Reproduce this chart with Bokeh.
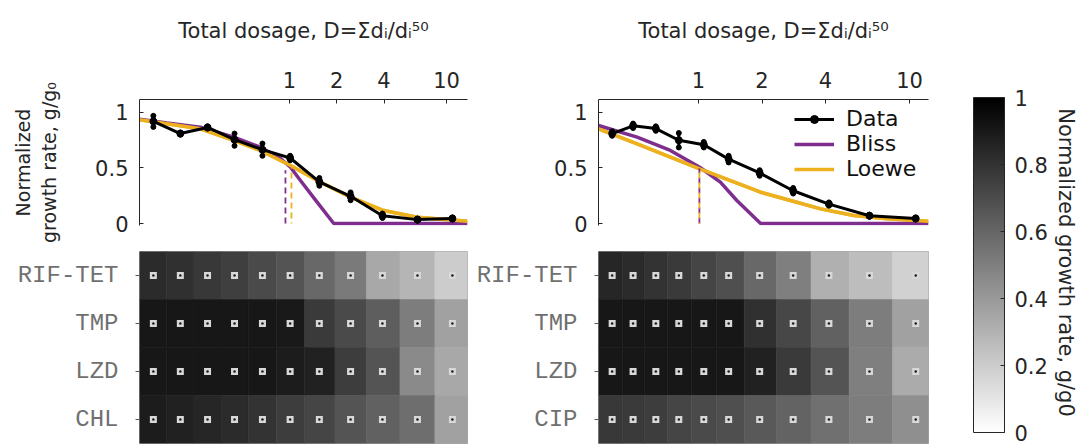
import math
from bokeh.plotting import figure
from bokeh.layouts import row, column
from bokeh.models import (Range1d, FactorRange, FixedTicker, NumeralTickFormatter, Legend,
                          LegendItem, LinearColorMapper, ColorBar, Label, ColumnDataSource)
from bokeh.transform import linear_cmap
from bokeh.embed import file_html
from bokeh.resources import INLINE

# ---------------- data ----------------
x_ticks = [1, 2, 4, 10]
y_ticks = [0, 0.5, 1]
cbar_ticks = [0, 0.2, 0.4, 0.6, 0.8, 1]

# left panel
dose_left = [0.136, 0.202, 0.301, 0.447, 0.673, 1.01, 1.55, 2.45, 3.91, 6.53, 10.9]
data_left = [0.92, 0.81, 0.865, 0.755, 0.665, 0.59, 0.375, 0.245, 0.07, 0.035, 0.045]
err_left = [0.05, 0.01, 0.01, 0.055, 0.055, 0.02, 0.035, 0.035, 0.02, 0.01, 0.01]
bliss_left_x = [0.111, 0.166, 0.271, 0.442, 0.654, 0.877, 1.015, 1.175, 1.50, 1.915, 13.6]
bliss_left_y = [0.94, 0.905, 0.868, 0.778, 0.687, 0.586, 0.507, 0.387, 0.192, 0.0, 0.0]
loewe_left_x = [0.111, 0.166, 0.271, 0.442, 0.654, 1.015, 1.58, 2.45, 3.98, 6.5, 13.6]
loewe_left_y = [0.934, 0.898, 0.853, 0.748, 0.658, 0.523, 0.372, 0.237, 0.117, 0.057, 0.021]
dash_left_x = [0.943, 1.03]
dash_left_top = [0.48, 0.50]
rows_left = ["RIF-TET", "TMP", "LZD", "CHL"]
heat_left = [
    [0.83, 0.81, 0.78, 0.75, 0.71, 0.67, 0.59, 0.52, 0.34, 0.29, 0.20],
    [0.91, 0.91, 0.91, 0.91, 0.91, 0.90, 0.77, 0.71, 0.63, 0.51, 0.37],
    [0.91, 0.91, 0.91, 0.91, 0.91, 0.89, 0.87, 0.76, 0.67, 0.46, 0.34],
    [0.89, 0.87, 0.85, 0.83, 0.80, 0.76, 0.73, 0.67, 0.62, 0.57, 0.37],
]

# right panel
dose_right = [0.390, 0.490, 0.628, 0.807, 1.06, 1.39, 1.95, 2.81, 4.15, 6.46, 10.7]
data_right = [0.81, 0.88, 0.855, 0.75, 0.71, 0.58, 0.455, 0.295, 0.175, 0.07, 0.045]
err_right = [0.02, 0.02, 0.02, 0.065, 0.025, 0.03, 0.025, 0.025, 0.015, 0.01, 0.01]
bliss_right_x = [0.336, 0.512, 0.736, 1.014, 1.27, 1.52, 1.97, 12.3]
bliss_right_y = [0.883, 0.778, 0.658, 0.507, 0.372, 0.207, 0.0, 0.0]
loewe_right_x = [0.336, 0.512, 0.736, 1.014, 1.418, 1.97, 2.73, 3.79, 5.45, 7.84, 12.3]
loewe_right_y = [0.853, 0.718, 0.598, 0.492, 0.387, 0.282, 0.207, 0.132, 0.072, 0.042, 0.021]
dash_right_x = [1.01, 1.01]
dash_right_top = [0.50, 0.50]
rows_right = ["RIF-TET", "TMP", "LZD", "CIP"]
heat_right = [
    [0.85, 0.83, 0.80, 0.77, 0.73, 0.69, 0.59, 0.50, 0.31, 0.26, 0.18],
    [0.91, 0.91, 0.91, 0.91, 0.91, 0.91, 0.81, 0.72, 0.62, 0.51, 0.37],
    [0.91, 0.91, 0.91, 0.91, 0.91, 0.91, 0.87, 0.77, 0.67, 0.50, 0.33],
    [0.78, 0.77, 0.76, 0.73, 0.71, 0.69, 0.65, 0.61, 0.56, 0.51, 0.44],
]

# ---------------- style ----------------
FONT = "DejaVu Sans"
AX = "#262626"
PURPLE = "#7E2F8E"
ORANGE = "#EDB120"
GRAY_PAL = ["#%02x%02x%02x" % (255 - i, 255 - i, 255 - i) for i in range(256)]
mapper = LinearColorMapper(palette=GRAY_PAL, low=0, high=1)

X_LEFT = (0.111, 13.6)
X_RIGHT = (0.336, 12.3)
TOP_H = 250
HEAT_H = 194


def top_plot(width, bl, br, xr, doses, data, err, bx, by, lx, ly, dx, dtop, ylabel, legend):
    p = figure(width=width, height=TOP_H, x_axis_type="log", x_axis_location="above",
               x_range=Range1d(*xr), y_range=Range1d(-0.018, 1.117),
               toolbar_location=None, output_backend="svg",
               min_border_left=bl, min_border_right=br, min_border_top=99, min_border_bottom=25)
    p.outline_line_color = None
    p.xgrid.visible = False
    p.ygrid.visible = False
    p.background_fill_color = None
    p.border_fill_color = None

    xa = p.xaxis[0]
    xa.ticker = FixedTicker(ticks=x_ticks)
    xa.formatter = NumeralTickFormatter(format="0")
    xa.axis_label = "Total dosage, D=Σdᵢ/dᵢ⁵⁰"
    ya = p.yaxis[0]
    ya.ticker = FixedTicker(ticks=y_ticks)
    ya.formatter = NumeralTickFormatter(format="0.[0]")
    for a in (xa, ya):
        a.axis_line_color = AX
        a.axis_line_width = 1
        a.major_tick_in = 4
        a.major_tick_out = 0
        a.major_tick_line_color = AX
        a.minor_tick_line_color = None
        a.major_label_text_font = FONT
        a.major_label_text_font_size = "21px"
        a.major_label_text_color = AX
        a.axis_label_text_font = FONT
        a.axis_label_text_font_size = "21px"
        a.axis_label_text_font_style = "normal"
        a.axis_label_text_color = AX
    if ylabel:
        ya.axis_label = ylabel
        ya.axis_label_standoff = 32
        ya.axis_label_text_font_size = "19px"
    xa.major_label_standoff = 12
    xa.axis_label_standoff = 26
    ya.major_label_standoff = 11

    lo_r = p.line(lx, ly, line_color=ORANGE, line_width=3.5)
    bl_r = p.line(bx, by, line_color=PURPLE, line_width=3.5)
    p.line(lx, ly, line_color=ORANGE, line_width=3.5)
    lower = [m - e for m, e in zip(data, err)]
    upper = [m + e for m, e in zip(data, err)]
    p.segment(x0=doses, y0=lower, x1=doses, y1=upper, line_color="black", line_width=3)
    p.scatter(doses + doses, lower + upper, marker="circle", size=5, color="black")
    d_line = p.line(doses, data, line_color="black", line_width=3)
    d_pts = p.scatter(doses, data, marker="circle", size=7, color="black")
    p.segment(x0=[dx[0]], y0=[0], x1=[dx[0]], y1=[dtop[0]], line_color=PURPLE,
              line_width=1.8, line_dash="6 4")
    p.segment(x0=[dx[1]], y0=[0], x1=[dx[1]], y1=[dtop[1]], line_color=ORANGE,
              line_width=1.8, line_dash="6 4", line_dash_offset=5)

    if legend:
        lg = Legend(items=[LegendItem(label="Data", renderers=[d_line, d_pts]),
                           LegendItem(label="Bliss", renderers=[bl_r]),
                           LegendItem(label="Loewe", renderers=[lo_r])],
                    location=(196, 44), label_text_font=FONT, label_text_font_size="22px",
                    label_text_color="#111111", border_line_color=None,
                    background_fill_alpha=0, padding=0, margin=0, spacing=-3,
                    glyph_width=40, glyph_height=20, label_standoff=12, label_height=20)
        p.add_layout(lg)
    return p


def heat_plot(width, bl, br, xr, rows, vals, doses):
    p = figure(width=width, height=HEAT_H, x_axis_type="log", x_axis_location=None,
               x_range=Range1d(*xr), y_range=FactorRange(*rows[::-1]),
               toolbar_location=None, output_backend="svg",
               min_border_left=bl, min_border_right=br, min_border_top=1, min_border_bottom=1)
    p.xgrid.visible = False
    p.ygrid.visible = False
    p.outline_line_color = "#a8a8a8"
    p.outline_line_width = 1
    edges = [xr[0]] + [math.sqrt(a * b) for a, b in zip(doses[:-1], doses[1:])] + [xr[1]]
    ys, lefts, rights, vs, px = [], [], [], [], []
    for r, rv in zip(rows, vals):
        for i, v in enumerate(rv):
            ys.append(r)
            lefts.append(edges[i])
            rights.append(edges[i + 1])
            vs.append(v)
            px.append(doses[i])
    src = ColumnDataSource(dict(y=ys, left=lefts, right=rights, v=vs, x=px))
    cmap = linear_cmap("v", GRAY_PAL, 0, 1)
    p.hbar(y="y", left="left", right="right", height=1.0, fill_color=cmap,
           line_color=cmap, line_width=0.6, source=src)
    p.scatter("x", "y", marker="square", size=7, fill_color="#d8d8d8", line_color=None, source=src)
    p.scatter("x", "y", marker="circle", size=2.5, fill_color="#1a1a1a", line_color=None, source=src)
    ya = p.yaxis[0]
    ya.axis_line_color = None
    ya.major_tick_in = 0
    ya.major_tick_out = 4
    ya.major_tick_line_color = "#555555"
    ya.major_label_standoff = 17
    ya.major_label_text_font = "Liberation Mono"
    ya.major_label_text_font_size = "24px"
    ya.major_label_text_color = "#707070"
    return p


tl = top_plot(470, 139, 3, X_LEFT, dose_left, data_left, err_left, bliss_left_x, bliss_left_y,
              loewe_left_x, loewe_left_y, dash_left_x, dash_left_top,
              "Normalized\ngrowth rate, g/g₀", False)
tr = top_plot(480, 128, 22, X_RIGHT, dose_right, data_right, err_right, bliss_right_x, bliss_right_y,
              loewe_right_x, loewe_right_y, dash_right_x, dash_right_top, None, True)
hl = heat_plot(470, 139, 3, X_LEFT, rows_left, heat_left, dose_left)
hr = heat_plot(480, 128, 22, X_RIGHT, rows_right, heat_right, dose_right)

# colour bar panel
cbf = figure(width=134, height=444, x_range=Range1d(0, 1), y_range=Range1d(0, 1),
             x_axis_location=None, y_axis_location=None, toolbar_location=None,
             output_backend="svg", min_border=0)
cbf.outline_line_color = None
cbf.xgrid.visible = False
cbf.ygrid.visible = False
cb = ColorBar(color_mapper=mapper, location=(23, 12), width=31, height=335,
              ticker=FixedTicker(ticks=cbar_ticks), formatter=NumeralTickFormatter(format="0.[0]"),
              major_label_text_font=FONT, major_label_text_font_size="21px",
              major_label_text_color=AX, label_standoff=10, major_tick_in=4, major_tick_out=0,
              major_tick_line_color=AX, bar_line_color=AX, bar_line_width=1,
              padding=0, margin=0, border_line_color=None, background_fill_alpha=0)
cbf.add_layout(cb)
cbf.add_layout(Label(x=115, y=182, x_units="screen", y_units="screen",
                     text="Normalized growth rate, g/g0", angle=-math.pi / 2,
                     text_align="center", text_baseline="middle", text_font=FONT,
                     text_font_size="21px", text_color=AX))

layout = row(column(tl, hl), column(tr, hr), cbf)
open("out.html", "w").write(file_html(layout, INLINE))
